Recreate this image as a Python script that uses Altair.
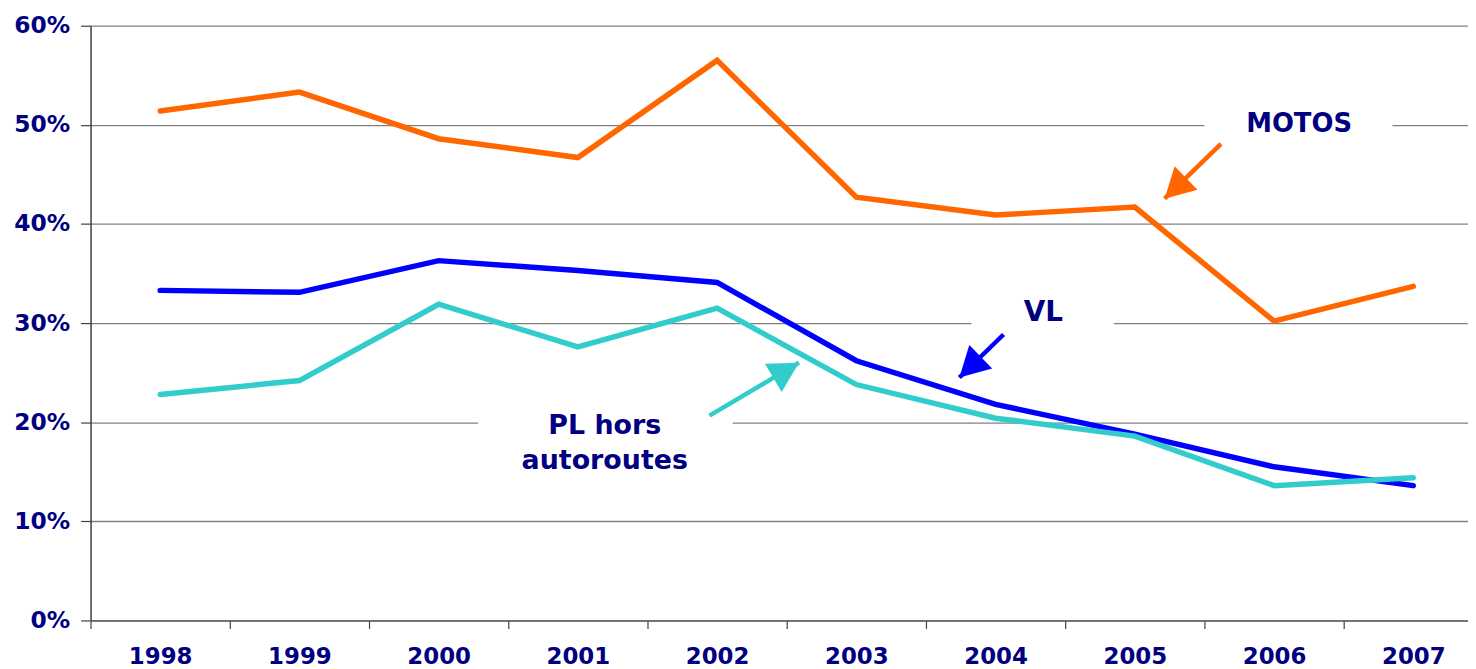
import math
import altair as alt
import pandas as pd

# ---- data ----
years = [1998, 1999, 2000, 2001, 2002, 2003, 2004, 2005, 2006, 2007]
motos = [51.4, 53.3, 48.6, 46.7, 56.5, 42.7, 40.9, 41.7, 30.2, 33.7]
vl = [33.3, 33.1, 36.3, 35.3, 34.1, 26.2, 21.8, 18.8, 15.5, 13.6]
pl = [22.8, 24.2, 31.9, 27.6, 31.5, 23.8, 20.4, 18.6, 13.6, 14.4]

series_names = ["MOTOS", "VL", "PL hors autoroutes"]
series_colors = ["#FF6600", "#0000FF", "#33CCCC"]

# annotation labels (data units)
label_text = ["MOTOS", "VL", "PL hors", "autoroutes"]
label_x = [2006.18, 2004.343, 2001.193, 2001.193]
label_y = [0.4923, 0.3025, 0.1882, 0.1524]

# white boxes hiding gridlines behind labels (data units)
box_x = [2005.5, 2003.826, 2000.284]
box_x2 = [2006.85, 2004.85, 2002.112]
box_y = [0.49, 0.29, 0.19]
box_y2 = [0.51, 0.31, 0.21]

# arrows: start and tip (data units)
arrow_series = ["MOTOS", "VL", "PL hors autoroutes"]
arrow_x = [2005.619, 2004.057, 2001.945]
arrow_y = [0.4807, 0.2885, 0.2066]
arrow_tx = [2005.214, 2003.740, 2002.588]
arrow_ty = [0.4255, 0.2451, 0.2601]

y_ticks = [0, 0.1, 0.2, 0.3, 0.4, 0.5, 0.6]
x_ticks = [1997.5 + 0.5 * i for i in range(21)]

# ---- geometry helpers ----
PLOT_W = 1385
PLOT_H = 598
X_RANGE = 1400
X_DOM = [1997.5, 2007.5]
Y_DOM = [0, 0.6]
px_per_x = X_RANGE / (X_DOM[1] - X_DOM[0])
px_per_y = PLOT_H / (Y_DOM[1] - Y_DOM[0])

rows = []
for name, vals in zip(series_names, [motos, vl, pl]):
    for yr, v in zip(years, vals):
        rows.append({"year": yr, "value": v / 100.0, "series": name})
lines_df = pd.DataFrame(rows)

labels_df = pd.DataFrame({"text": label_text, "x": label_x, "y": label_y,
                          "grp": ["motos", "vl", "pl", "pl"]})
boxes_df = pd.DataFrame({"x": box_x, "x2": box_x2, "y": box_y, "y2": box_y2})

angles = []
for sx, sy, tx, ty in zip(arrow_x, arrow_y, arrow_tx, arrow_ty):
    dx = (tx - sx) * px_per_x
    dy = -(ty - sy) * px_per_y
    angles.append(math.degrees(math.atan2(dx, -dy)) % 360)
arrows_df = pd.DataFrame({"series": arrow_series, "x": arrow_x, "y": arrow_y,
                          "tx": arrow_tx, "ty": arrow_ty, "angle": angles})

color = alt.Color("series:N",
                  scale=alt.Scale(domain=series_names, range=series_colors),
                  legend=None)

xscale = alt.Scale(domain=X_DOM, range=[0, X_RANGE], nice=False, zero=False)
yscale = alt.Scale(domain=Y_DOM, nice=False, zero=True)

x_axis = alt.Axis(
    values=x_ticks,
    title=None,
    grid=False,
    labelExpr="datum.value % 1 == 0 ? format(datum.value, 'd') : ''",
    labelOverlap=False,
    labelFlush=False,
    labelFont="DejaVu Sans",
    labelFontWeight="bold",
    labelFontSize=23,
    labelColor="#000080",
    labelPadding=17,
    tickSize=8,
    tickColor="#404040",
    tickWidth=1.2,
    tickOpacity={"condition": {"test": "datum.value % 1 != 0", "value": 1}, "value": 0},
    domainColor="#606060",
    domainWidth=1.5,
)
y_axis = alt.Axis(
    values=y_ticks,
    format=".0%",
    title=None,
    grid=True,
    gridColor="#808080",
    gridWidth=1.3,
    labelFont="DejaVu Sans",
    labelFontWeight="bold",
    labelFontSize=23.5,
    labelColor="#000080",
    labelPadding=11,
    tickSize=10,
    tickColor="#404040",
    tickWidth=1.2,
    domainColor="#404040",
    domainWidth=1.5,
)


def X(field):
    return alt.X(field, scale=xscale, axis=x_axis)


def Y(field):
    return alt.Y(field, scale=yscale, axis=y_axis)


boxes = alt.Chart(boxes_df).mark_rect(color="white").encode(
    x=X("x:Q"), x2="x2:Q", y=Y("y:Q"), y2="y2:Q",
)

lines = alt.Chart(lines_df).mark_line(strokeWidth=5.5, strokeCap="round", strokeJoin="miter").encode(
    x=X("year:Q"),
    y=Y("value:Q"),
    color=color,
    order=alt.Order("year:Q"),
)
lines_vl = lines.transform_filter(alt.datum.series == "VL")
lines_pl = lines.transform_filter(alt.datum.series == "PL hors autoroutes")
lines_mo = lines.transform_filter(alt.datum.series == "MOTOS")

shafts = alt.Chart(arrows_df).mark_rule(strokeWidth=4.5).encode(
    x=X("x:Q"), y=Y("y:Q"), x2="tx:Q", y2="ty:Q", color=color,
)

heads = alt.Chart(arrows_df).mark_point(
    shape="M0,0L-0.55,1L0.55,1Z", size=3600, filled=True, opacity=1, strokeWidth=0
).encode(
    x=X("tx:Q"),
    y=Y("ty:Q"),
    angle=alt.Angle("angle:Q", scale=None),
    color=color,
)


def text_layer(grp, size):
    return alt.Chart(labels_df).transform_filter(alt.datum.grp == grp).mark_text(
        font="DejaVu Sans", fontWeight="bold", fontSize=size, color="#000080",
        align="center", baseline="alphabetic"
    ).encode(
        x=X("x:Q"),
        y=Y("y:Q"),
        text="text:N",
    )


chart = alt.layer(
    boxes, lines_vl, lines_pl, lines_mo, shafts, heads,
    text_layer("motos", 26), text_layer("vl", 28), text_layer("pl", 27),
).properties(
    width=PLOT_W,
    height=PLOT_H,
    autosize=alt.AutoSizeParams(type="none"),
    padding={"left": 83, "top": 16, "right": 0, "bottom": 46},
    background="white",
).configure_view(stroke=None)

chart.save("out.html", embed_options={"renderer": "svg", "actions": False})
